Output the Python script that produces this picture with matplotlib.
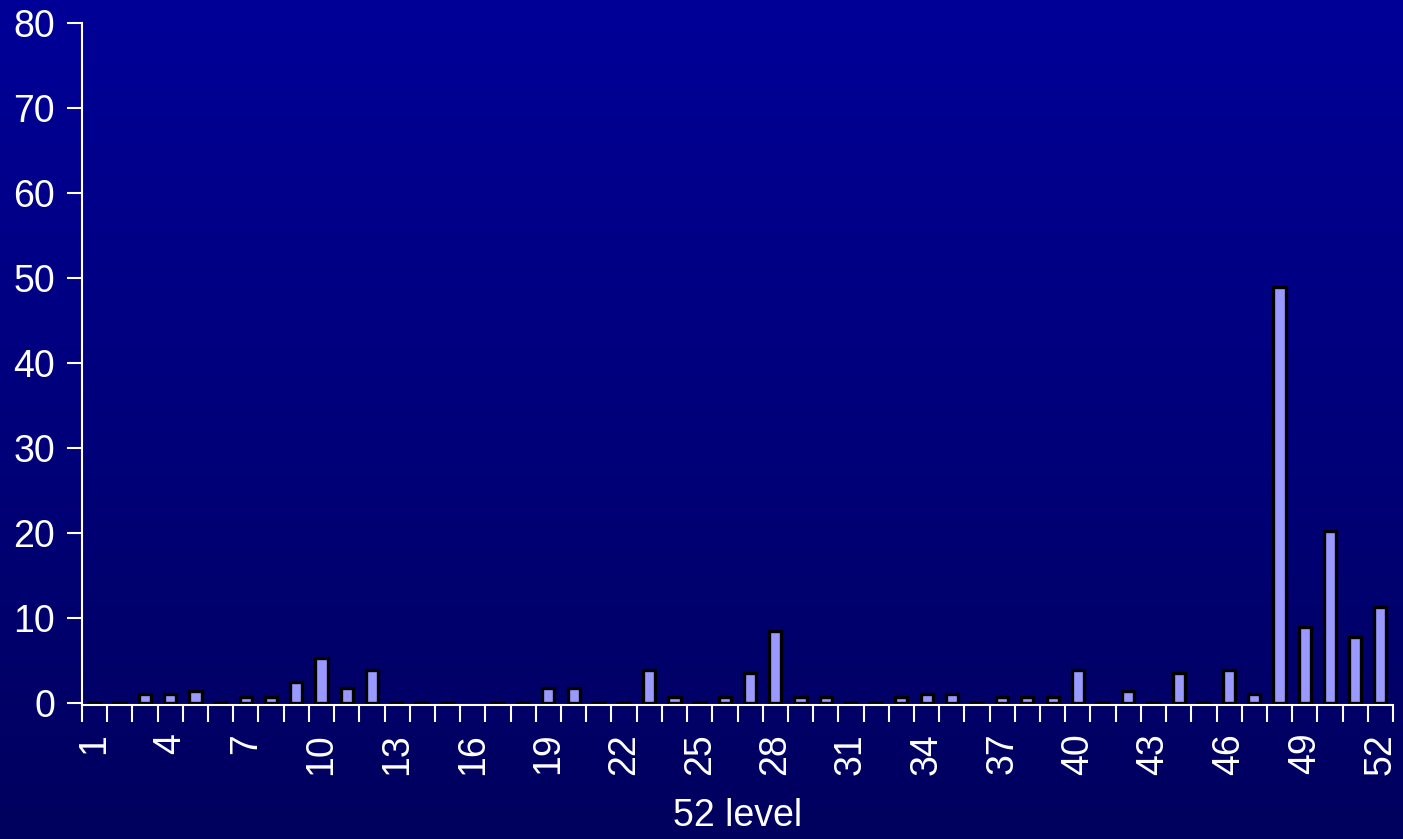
import numpy as np
import matplotlib
matplotlib.use("Agg")
import matplotlib.pyplot as plt
from matplotlib.colors import LinearSegmentedColormap

plt.rcParams['font.family'] = ['Liberation Sans', 'DejaVu Sans']

# Share (%) of each of the 52 levels
levels = list(range(1, 53))
shares = [0, 0, 1.0, 1.0, 1.4, 0, 0.7, 0.7, 2.5, 5.3,
          1.8, 3.9, 0, 0, 0, np.nan, 0, 0, 1.7, 1.7,
          0, 0, 3.9, 0.7, 0, 0.7, 3.5, 8.5, 0.7, 0.7,
          0, 0, 0.7, 1.0, 1.0, 0, 0.7, 0.7, 0.7, 3.9,
          0, 1.4, 0, 3.5, 0, 3.9, 1.0, 49.0, 8.9, 20.2,
          7.8, 11.3]
label_levels = levels[::3]
y_ticks = list(range(0, 81, 10))

W, H = 1403, 839
fig = plt.figure(figsize=(W / 100, H / 100), dpi=100)

# vertical blue gradient background
bg = fig.add_axes([0, 0, 1, 1], zorder=0)
bg.set_axis_off()
cmap = LinearSegmentedColormap.from_list("bg", ["#00005e", "#000098"])
grad = np.linspace(0, 1, 256).reshape(-1, 1)
bg.imshow(grad, aspect="auto", cmap=cmap, origin="lower", extent=[0, 1, 0, 1])

ax = fig.add_axes([82 / W, (H - 705) / H, 1311 / W, (705 - 23.3) / H], zorder=1)
ax.patch.set_alpha(0)

bar_width = 0.48
ax.bar(levels, shares, width=bar_width, color="#9999ff", edgecolor="black",
       linewidth=2.4, zorder=2)

# empty levels are shown as a flat dark outline on the baseline
empty = [lv for lv, s in zip(levels, shares) if s == 0]
ax.hlines([0] * len(empty), [lv - bar_width / 2 for lv in empty],
          [lv + bar_width / 2 for lv in empty], colors="black",
          linewidth=2.6, capstyle="projecting", zorder=2)

ax.set_xlim(0.5, 52.5)
ax.set_ylim(-0.25, 80)

for side in ("top", "right"):
    ax.spines[side].set_visible(False)
for side in ("left", "bottom"):
    ax.spines[side].set_color("white")
    ax.spines[side].set_linewidth(1.5)
    ax.spines[side].set_zorder(3)
ax.spines["left"].set_bounds(-0.25, 80)

ax.set_yticks(y_ticks)
ax.tick_params(axis="y", colors="white", labelsize=27, length=11, width=1.5,
               pad=8.5)

ax.set_xticks(label_levels)
ax.set_xticklabels([str(v) for v in label_levels], rotation=90, va="top")
ax.set_xticks(np.arange(0.5, 53, 1), minor=True)
ax.tick_params(axis="x", which="major", colors="white", labelsize=27,
               length=0, pad=20)
ax.tick_params(axis="x", which="minor", colors="white", length=12, width=1.5)

ax.set_xlabel("52 level", color="white", fontsize=27, labelpad=17)

fig.savefig("out.png", dpi=100)
